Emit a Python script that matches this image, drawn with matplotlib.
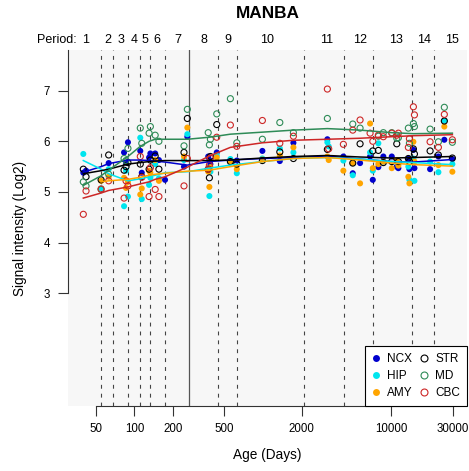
import numpy as np
import matplotlib
matplotlib.use("Agg")
import matplotlib.pyplot as plt
import matplotlib.transforms as mtransforms
from matplotlib.lines import Line2D

plt.rcParams['font.family'] = ['Liberation Sans', 'DejaVu Sans']

nan = np.nan

# --- sample ages (days post conception) and signal per region ---
age = [40, 42, 55, 63, 83, 86, 89, 111, 114, 130, 133, 145, 155, 173, 243, 258,
       375, 383, 390, 437, 558, 626, 990, 1353, 1726, 3172, 3250, 4226, 5000, 5700,
       6820, 7160, 7910, 8650, 10060, 11000, 11320, 13540, 13800, 14820, 15100,
       19990, 23200, 25800, 29800]

ncx = [5.38, 5.42, nan, 5.57, 5.78, 5.58, 5.98, 5.81, 5.38, 5.68, 5.76, 5.76, 5.63, 5.24, 5.50, 6.09,
       5.70, 5.63, 5.55, 5.78, 5.62, 5.62, 5.81, 5.61, 5.97, 6.04, nan, 5.70, 5.37, 5.57,
       5.70, 5.24, 5.49, 5.70, 5.70, 5.50, 5.47, 5.66, 5.45, 5.83, 5.47,
       5.45, 5.70, 6.03, 5.65]
hip = [5.75, nan, 5.07, 5.45, 4.72, 5.42, 4.91, 6.07, 4.86, 5.14, 5.28, 5.55, 5.27, nan, 5.63, 6.14,
       5.45, 4.92, 5.40, 5.72, 5.65, 5.37, 5.66, 5.86, 5.78, 5.98, 5.90, 5.62, 5.33, nan,
       5.78, 5.42, 5.96, 5.60, nan, 5.60, 5.55, 5.50, 5.24, 5.66, 5.22,
       5.60, 5.39, 6.41, 5.55]
amy = [nan, nan, 5.22, 5.30, 5.28, 5.08, 5.20, 4.95, 5.07, 5.42, 5.38, 5.63, 5.22, nan, 5.70, 6.27,
       5.40, 5.10, 5.49, 5.68, 5.60, 5.45, 5.64, 5.72, 5.88, 5.70, 5.63, 5.42, 5.57, 5.17,
       6.35, 5.47, 5.55, 5.60, 5.47, 5.63, 5.52, 5.30, 5.17, 5.99, 5.60,
       nan, 5.53, 6.29, 5.40]
strm = [5.45, 5.30, 5.24, 5.73, 5.43, 5.50, 5.58, 5.55, 5.30, 5.45, 5.63, 5.71, 5.45, nan, 5.78, 6.45,
        5.45, 5.28, 5.70, 6.33, 5.60, 5.55, 5.62, 5.79, 5.66, 5.84, nan, nan, 5.57, 5.95,
        nan, 5.81, 5.82, 5.58, 5.60, 5.95, 5.60, 5.66, 5.60, 5.85, 5.75,
        5.81, 5.73, 6.40, 5.67]
md = [5.20, 5.12, 5.05, 5.35, 5.66, 5.62, 5.86, 6.26, 5.96, 6.16, 6.29, 6.12, 6.00, nan, 5.91, 6.63,
      6.17, 5.93, 6.04, 6.54, 6.84, 5.97, 6.04, 6.37, 6.17, 6.45, nan, nan, 6.34, 6.26,
      nan, nan, 6.10, 6.17, 6.17, 6.06, 6.07, 6.26, 5.96, 6.35, 6.29,
      6.24, 5.99, 6.67, 5.98]
cbc = [4.56, 5.02, 5.06, 5.22, 4.88, 5.22, 5.12, 5.70, 5.29, 4.91, 5.48, 5.05, 4.91, nan, 5.12, 5.66,
       5.45, 5.53, 5.67, 6.08, 6.32, 5.90, 6.41, 5.96, 6.10, 7.03, 5.85, 5.94, 6.22, 6.42,
       6.16, 6.00, 6.12, 6.09, 6.16, 6.12, 6.16, 5.88, 6.05, 6.68, 6.52,
       5.99, 5.88, 6.53, 6.03]

# smoothed trend per region
fit_age = [40, 55, 63, 89, 111, 130, 145, 173, 258, 383, 558, 990, 1726, 3172, 5700, 10060, 14820, 29800]
fit_ncx = [5.39, 5.50, 5.56, 5.63, 5.63, 5.62, 5.61, 5.59, 5.53, 5.60, 5.63, 5.66, 5.68, 5.71, 5.65, 5.60, 5.59, 5.64]
fit_hip = [5.62, 5.45, 5.36, 5.22, 5.26, 5.30, 5.33, 5.38, 5.40, 5.47, 5.53, 5.60, 5.66, 5.68, 5.65, 5.60, 5.58, 5.54]
fit_amy = [nan, 5.20, 5.22, 5.25, 5.29, 5.33, 5.35, 5.37, 5.41, 5.43, 5.50, 5.60, 5.66, 5.68, 5.63, 5.57, 5.54, 5.51]
fit_str = [5.36, 5.42, 5.45, 5.55, 5.58, 5.60, 5.61, 5.62, 5.62, 5.62, 5.63, 5.67, 5.70, 5.72, 5.69, 5.67, 5.68, 5.70]
fit_md = [5.13, 5.32, 5.43, 5.70, 5.90, 6.00, 6.04, 6.04, 6.04, 6.08, 6.14, 6.18, 6.22, 6.25, 6.22, 6.17, 6.15, 6.16]
fit_cbc = [4.88, 4.98, 5.03, 5.10, 5.16, 5.20, 5.25, 5.30, 5.49, 5.71, 5.88, 5.97, 6.02, 6.04, 6.06, 6.09, 6.11, 6.13]

# period boundaries (days); birth drawn solid
period_bounds = [54.6, 68.5, 89.5, 110.6, 131.6, 173.5, 445, 629, 2080, 4250, 7150, 14450, 21610]
birth = 264.6
period_labels = ['1', '2', '3', '4', '5', '6', '7', '8', '9', '10', '11', '12', '13', '14', '15']
period_label_age = [41.5, 61.6, 78.7, 99.3, 120, 150.7, 217, 350, 532, 1071, 3158, 5700, 10870, 18040, 29440]

xticks = [50, 100, 200, 500, 2000, 10000, 30000]

regions = ['NCX', 'HIP', 'AMY', 'STR', 'MD', 'CBC']
colors = ['#0000CD', '#00E5EE', '#FFA500', '#000000', '#2E8B57', '#CD2626']
filled = [True, True, True, False, False, False]
values = [ncx, hip, amy, strm, md, cbc]
fits = [fit_ncx, fit_hip, fit_amy, fit_str, fit_md, fit_cbc]

fig = plt.figure(figsize=(4.69, 4.71), dpi=100)
ax = fig.add_axes([68 / 469, 65 / 471, 399 / 469, 356 / 471])
ax.set_facecolor('#F7F7F7')

ax.set_xscale('log')
ax.set_xlim(30.4, 38730)
ax.set_ylim(0.78, 7.80)

for b in period_bounds:
    ax.axvline(b, color='#444444', lw=0.8, linestyle=(0, (3.5, 4.5)), zorder=1)
ax.axvline(birth, color='#555555', lw=0.9, zorder=1)

for name, col, fill, vals in zip(regions, colors, filled, values):
    if fill:
        ax.scatter(age, vals, s=19, color=col, edgecolors='none', zorder=3)
    else:
        ax.scatter(age, vals, s=19, facecolors='none', edgecolors=col, linewidths=0.8, zorder=3)

for col, f in zip(colors, fits):
    ax.plot(fit_age, f, color=col, lw=1.1, zorder=4)

# axes styling in the R base-graphics manner
for side in ['top', 'right']:
    ax.spines[side].set_visible(False)
ax.spines['left'].set_bounds(3, 7.8)
ax.spines['bottom'].set_bounds(50, 30000)
ax.spines['left'].set_color('#333333')
ax.spines['bottom'].set_color('#333333')
ax.set_yticks([3, 4, 5, 6, 7])
ax.set_yticklabels(['3', '4', '5', '6', '7'])
ax.set_xticks(xticks)
ax.set_xticklabels([str(t) for t in xticks])
ax.xaxis.set_minor_locator(matplotlib.ticker.NullLocator())
ax.tick_params(axis='both', direction='out', length=7, width=0.8, color='#333333', labelsize=8.3)
ax.tick_params(axis='y', pad=6)
ax.tick_params(axis='x', pad=5.5)

ax.set_xlabel('Age (Days)', fontsize=9.8, labelpad=9)
ax.set_ylabel('Signal intensity (Log2)', fontsize=9.8, labelpad=12)
fig.text(268 / 469, 1 - 13 / 471, 'MANBA', ha='center', va='center', fontsize=12.4, fontweight='bold')

trans = mtransforms.blended_transform_factory(ax.transData, fig.transFigure)
ax.text(24.9, 1 - 40 / 471, 'Period:', transform=trans, ha='center', va='center', fontsize=9, clip_on=False)
for lab, a in zip(period_labels, period_label_age):
    ax.text(a, 1 - 40 / 471, lab, transform=trans, ha='center', va='center', fontsize=9, clip_on=False)

handles = []
for name, col, fill in zip(regions, colors, filled):
    if fill:
        h = Line2D([], [], marker='o', linestyle='none', markersize=5, color=col, markeredgecolor='none', label=name)
    else:
        h = Line2D([], [], marker='o', linestyle='none', markersize=5, markerfacecolor='none',
                   markeredgecolor=col, markeredgewidth=0.8, label=name)
    handles.append(h)
leg = ax.legend(handles=handles, ncol=2, loc='lower right', borderaxespad=0, fontsize=8.5,
                frameon=True, fancybox=False, edgecolor='black', framealpha=1,
                handlelength=0.8, handletextpad=0.5, columnspacing=0.6, labelspacing=0.4,
                borderpad=0.6)
leg.get_frame().set_linewidth(0.8)

fig.savefig('out.png', dpi=100)
